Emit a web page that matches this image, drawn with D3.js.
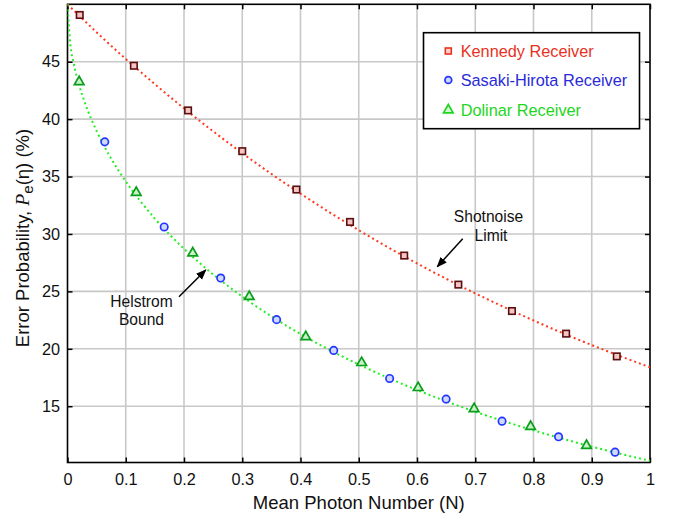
<!DOCTYPE html>
<html><head><meta charset="utf-8">
<script src="https://cdn.jsdelivr.net/npm/d3@7"></script>
<style>body{margin:0;background:#fff}svg{display:block;font-family:"Liberation Sans",Arial,sans-serif}</style>
</head><body><svg id="c" width="673" height="516"></svg>
<script>
// ---- data ----
const xTicks = [0,0.1,0.2,0.3,0.4,0.5,0.6,0.7,0.8,0.9,1];
const xTickLabels = ["0","0.1","0.2","0.3","0.4","0.5","0.6","0.7","0.8","0.9","1"];
const yTicks = [15,20,25,30,35,40,45];
const yTickLabels = ["15","20","25","30","35","40","45"];

const kennedyN  = [0.021,0.114,0.207,0.300,0.393,0.485,0.578,0.671,0.763,0.856,0.943];
const kennedyPe = [49.07,44.65,40.76,37.21,33.87,31.05,28.12,25.59,23.29,21.32,19.34];

const sasakiN  = [0.064,0.166,0.263,0.359,0.457,0.553,0.650,0.746,0.843,0.940];
const sasakiPe = [38.02,30.61,26.16,22.54,19.86,17.42,15.62,13.70,12.34,11.00];

const dolinarN  = [0.020,0.118,0.215,0.312,0.409,0.505,0.602,0.698,0.795,0.891];
const dolinarPe = [43.25,33.61,28.34,24.54,21.05,18.79,16.61,14.78,13.23,11.58];

const shotN  = [0,0.05,0.1,0.15,0.2,0.25,0.3,0.35,0.4,0.45,0.5,0.55,0.6,0.65,0.7,0.75,0.8,0.85,0.9,0.95,1];
const shotPe = [50,47.56,45.24,43.04,40.94,38.94,37.04,35.23,33.52,31.88,30.33,28.85,27.44,26.10,24.83,23.62,22.47,21.37,20.33,19.34,18.39];

const helN  = [0,0.005,0.01,0.02,0.03,0.05,0.075,0.1,0.15,0.2,0.25,0.3,0.35,0.4,0.45,0.5,0.55,0.6,0.65,0.7,0.75,0.8,0.85,0.9,0.95,1];
const helPe = [50,46.47,45.01,42.97,41.40,38.96,36.56,34.58,31.34,28.71,26.48,24.55,22.83,21.29,19.90,18.64,17.48,16.41,15.43,14.52,13.68,12.90,12.17,11.48,10.84,10.25];

const legendLabels = ["Kennedy Receiver","Sasaki-Hirota Receiver","Dolinar Receiver"];

// ---- layout ----
const svg = d3.select("#c");
const L = 67.5, R = 650, T = 4.3, B = 462.5;
const x = d3.scaleLinear().domain([0,1]).range([L,R]);
const y = d3.scaleLinear().domain([10.1,50]).range([B,T]);
const grid = "#c8c8c8";

// grid
svg.append("g").selectAll("line").data(xTicks.slice(1,-1)).join("line")
  .attr("x1",d=>x(d)).attr("x2",d=>x(d)).attr("y1",T).attr("y2",B)
  .attr("stroke",grid).attr("stroke-width",1.6);
svg.append("g").selectAll("line").data(yTicks).join("line")
  .attr("y1",d=>y(d)).attr("y2",d=>y(d)).attr("x1",L).attr("x2",R)
  .attr("stroke",grid).attr("stroke-width",1.6);

// axes (inside ticks on all sides)
const fmtX = (d,i)=>xTickLabels[i];
const fmtY = (d,i)=>yTickLabels[i];
const gB = svg.append("g").attr("transform",`translate(0,${B})`)
  .call(d3.axisBottom(x).tickValues(xTicks).tickFormat(fmtX).tickSizeInner(-5).tickSizeOuter(0).tickPadding(11));
const gT = svg.append("g").attr("transform",`translate(0,${T})`)
  .call(d3.axisTop(x).tickValues(xTicks).tickFormat("").tickSizeInner(-5).tickSizeOuter(0));
const gL = svg.append("g").attr("transform",`translate(${L},0)`)
  .call(d3.axisLeft(y).tickValues(yTicks).tickFormat(fmtY).tickSizeInner(-5).tickSizeOuter(0).tickPadding(7.5));
const gR = svg.append("g").attr("transform",`translate(${R},0)`)
  .call(d3.axisRight(y).tickValues(yTicks).tickFormat("").tickSizeInner(-5).tickSizeOuter(0));
[gB,gT,gL,gR].forEach(g=>{
  g.select(".domain").remove();
  g.selectAll(".tick line").attr("stroke","#000").attr("stroke-width",1.5);
  g.selectAll("text").attr("font-size",16.3).attr("font-family","Liberation Sans, Arial, sans-serif").attr("fill","#111");
});
svg.append("rect").attr("x",L).attr("y",T).attr("width",R-L).attr("height",B-T)
  .attr("fill","none").attr("stroke","#000").attr("stroke-width",1.6);

// clip
svg.append("clipPath").attr("id","clip").append("rect").attr("x",L).attr("y",T-1).attr("width",R-L+1).attr("height",B-T+1);

const line = d3.line().x(d=>x(d[0])).y(d=>y(d[1])).curve(d3.curveMonotoneX);
svg.append("path").datum(shotN.map((n,i)=>[n,shotPe[i]])).attr("d",line)
  .attr("clip-path","url(#clip)").attr("fill","none").attr("stroke","#ff3a1e")
  .attr("stroke-width",2).attr("stroke-dasharray","2,3");
svg.append("path").datum(helN.map((n,i)=>[n,helPe[i]])).attr("d",line)
  .attr("clip-path","url(#clip)").attr("fill","none").attr("stroke","#22ee22")
  .attr("stroke-width",2).attr("stroke-dasharray","2,3");

// markers
const sq = 6.5;
svg.append("g").selectAll("rect").data(kennedyN.map((n,i)=>[n,kennedyPe[i]])).join("rect")
  .attr("x",d=>x(d[0])-sq/2).attr("y",d=>y(d[1])-sq/2).attr("width",sq).attr("height",sq)
  .attr("fill","#f6c4c4").attr("stroke","#5a0f0f").attr("stroke-width",1.6);
svg.append("g").selectAll("circle").data(sasakiN.map((n,i)=>[n,sasakiPe[i]])).join("circle")
  .attr("cx",d=>x(d[0])).attr("cy",d=>y(d[1])).attr("r",3.7)
  .attr("fill","#cfd8ff").attr("stroke","#2236ff").attr("stroke-width",1.7);
const tri = d3.symbol().type(d3.symbolTriangle).size(40);
svg.append("g").selectAll("path").data(dolinarN.map((n,i)=>[n,dolinarPe[i]])).join("path")
  .attr("d",tri).attr("transform",d=>`translate(${x(d[0])},${y(d[1])})`)
  .attr("fill","#c9f2c9").attr("stroke","#0b9e1c").attr("stroke-width",1.7);

// annotations
const ann = svg.append("g").attr("font-size",15.6).attr("fill","#111").attr("text-anchor","middle");
ann.append("text").attr("x",141.5).attr("y",306.5).text("Helstrom");
ann.append("text").attr("x",141.5).attr("y",325).text("Bound");
ann.append("text").attr("x",488.5).attr("y",222.3).text("Shotnoise");
ann.append("text").attr("x",491).attr("y",241).text("Limit");
svg.append("defs").append("marker").attr("id","ah").attr("viewBox","0 0 10 10")
  .attr("refX",9).attr("refY",5).attr("markerWidth",7).attr("markerHeight",7).attr("orient","auto")
  .append("path").attr("d","M0,1 L10,5 L0,9 Z").attr("fill","#000");
svg.append("line").attr("x1",179).attr("y1",296.7).attr("x2",205.7).attr("y2",270)
  .attr("stroke","#000").attr("stroke-width",1.5).attr("marker-end","url(#ah)");
svg.append("line").attr("x1",462.7).attr("y1",238.7).attr("x2",437.3).attr("y2",266.7)
  .attr("stroke","#000").attr("stroke-width",1.5).attr("marker-end","url(#ah)");

// legend
const lg = svg.append("g");
lg.append("rect").attr("x",423.5).attr("y",32.7).attr("width",216).attr("height",96)
  .attr("fill","#fff").attr("stroke","#000").attr("stroke-width",1.6);
const legColors = ["#e8321e","#2a2ad8","#1ed61e"];
const legY = [51,80,110];
legendLabels.forEach((t,i)=>{
  lg.append("text").attr("x",460.7).attr("y",legY[i]+5.5).attr("font-size",16.3)
    .attr("fill",legColors[i]).text(t);
});
lg.append("rect").attr("x",448.3-3).attr("y",legY[0]-3).attr("width",6).attr("height",6)
  .attr("fill","#fbd0c8").attr("stroke","#e8321e").attr("stroke-width",1.6);
lg.append("circle").attr("cx",448.3).attr("cy",legY[1]).attr("r",3.4)
  .attr("fill","#cfd8ff").attr("stroke","#2236ff").attr("stroke-width",1.7);
lg.append("path").attr("d",tri).attr("transform",`translate(448.3,${legY[2]})`)
  .attr("fill","#d6f7d6").attr("stroke","#1ed61e").attr("stroke-width",1.7);

// axis titles
svg.append("text").attr("x",(L+R)/2).attr("y",509).attr("text-anchor","middle")
  .attr("font-size",18.5).attr("fill","#111").text("Mean Photon Number (N)");
const yl = svg.append("text").attr("transform",`translate(28.5,238) rotate(-90)`)
  .attr("text-anchor","middle").attr("font-size",18.5).attr("fill","#111");
yl.append("tspan").text("Error Probability, ");
yl.append("tspan").attr("font-style","italic").attr("font-family","Liberation Serif, Times New Roman, serif").attr("font-size",19.5).text("P");
yl.append("tspan").attr("dy",4.5).attr("font-size",15).text("e");
yl.append("tspan").attr("dy",-4.5).text("(η) (%)");
</script></body></html>
